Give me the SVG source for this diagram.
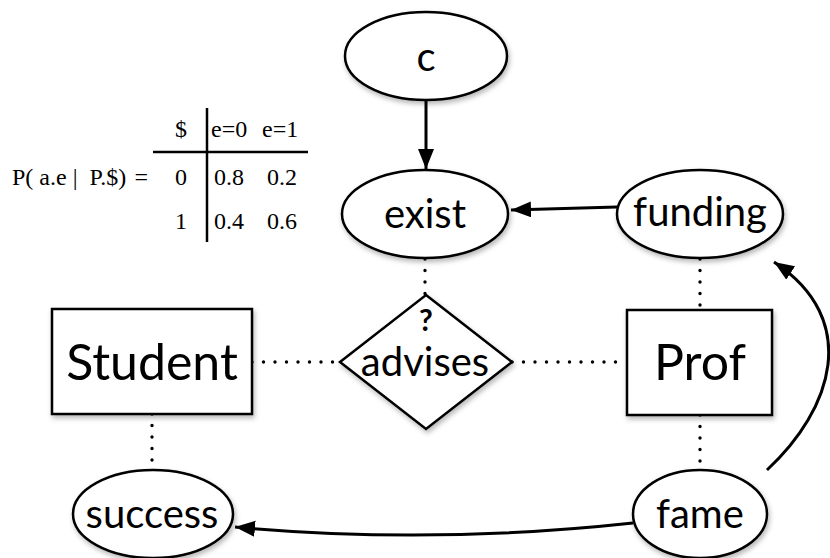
<svg xmlns="http://www.w3.org/2000/svg" width="830" height="558" viewBox="0 0 830 558">
  <style>
    .shape { fill: #ffffff; stroke: #000000; stroke-width: 2.5; filter: url(#shadow); }
    .lbl { font-family: Lato, "Open Sans", "DejaVu Sans", sans-serif; fill: #000000; text-anchor: middle; }
    .med { font-size: 40px; }
    .big { font-size: 50px; }
    .arrow { fill: none; stroke: #000000; stroke-width: 3; marker-end: url(#head); }
    .dots { fill: none; stroke: #000000; stroke-width: 3.4; stroke-linecap: round; stroke-dasharray: 0 11.5; }
    .tbl { font-family: "Liberation Serif", "Times New Roman", serif; font-size: 24px; fill: #000000; }
    .rule { stroke: #000000; stroke-width: 2.5; }
  </style>
  <defs>
    <filter id="shadow" x="-20%" y="-20%" width="140%" height="150%">
      <feDropShadow dx="1.5" dy="3" stdDeviation="2.5" flood-color="#000000" flood-opacity="0.28"/>
    </filter>
    <marker id="head" markerUnits="userSpaceOnUse" markerWidth="22" markerHeight="18" refX="20" refY="8" orient="auto">
      <path d="M0,0 L20,8 L0,16 z" fill="#000000"/>
    </marker>
  </defs>

  <!-- conditional probability table -->
  <g id="cpt">
    <line class="rule" x1="207" y1="108" x2="207" y2="242"/>
    <line class="rule" x1="153" y1="152" x2="308" y2="152"/>
    <text class="tbl" x="181" y="137" text-anchor="middle">$</text>
    <text class="tbl" x="211" y="137">e=0</text>
    <text class="tbl" x="262" y="137">e=1</text>
    <text class="tbl" x="12" y="185" xml:space="preserve">P( a.e |  P.$)</text>
    <text class="tbl" x="148" y="185" text-anchor="end">=</text>
    <text class="tbl" x="181" y="185" text-anchor="middle">0</text>
    <text class="tbl" x="214" y="185">0.8</text>
    <text class="tbl" x="267" y="185">0.2</text>
    <text class="tbl" x="181" y="229" text-anchor="middle">1</text>
    <text class="tbl" x="214" y="229">0.4</text>
    <text class="tbl" x="267" y="229">0.6</text>
  </g>

  <!-- connectors -->
  <g id="connectors">
    <line class="arrow" x1="426" y1="100" x2="426" y2="169"/>
    <path class="arrow" d="M617,207 L511,210"/>
    <path class="arrow" d="M633,523 Q430,545 235,527"/>
    <path class="arrow" d="M767,470 C832,410 862,320 774,262"/>
    <line class="dots" x1="425" y1="259" x2="425" y2="295"/>
    <line class="dots" x1="700" y1="259" x2="700" y2="310"/>
    <line class="dots" x1="700" y1="415" x2="700" y2="470"/>
    <line class="dots" x1="152" y1="414" x2="152" y2="470"/>
    <line class="dots" x1="252" y1="362" x2="340" y2="362"/>
    <line class="dots" x1="512" y1="362" x2="627" y2="362"/>
  </g>

  <g id="c">
    <ellipse class="shape" cx="426" cy="56" rx="81" ry="44"/>
    <text class="lbl med" x="426" y="71">c</text>
  </g>
  <g id="exist">
    <ellipse class="shape" cx="425" cy="214" rx="83" ry="44"/>
    <text class="lbl med" x="425" y="228">exist</text>
  </g>
  <g id="funding">
    <ellipse class="shape" cx="700" cy="214" rx="83" ry="44"/>
    <text class="lbl med" x="700" y="226">funding</text>
  </g>
  <g id="student">
    <rect class="shape" x="52" y="309" width="200" height="105"/>
    <text class="lbl big" x="152" y="380">Student</text>
  </g>
  <g id="advises">
    <polygon class="shape" points="426,295 512,362 426,429 340,362"/>
    <text class="lbl" x="426" y="331" font-size="30" font-weight="bold">?</text>
    <text class="lbl med" x="425" y="376">advises</text>
  </g>
  <g id="prof">
    <rect class="shape" x="627" y="310" width="145" height="105"/>
    <text class="lbl big" x="700" y="380">Prof</text>
  </g>
  <g id="success">
    <ellipse class="shape" cx="153" cy="514" rx="80" ry="44"/>
    <text class="lbl med" x="152" y="528">success</text>
  </g>
  <g id="fame">
    <ellipse class="shape" cx="700" cy="514" rx="67" ry="44"/>
    <text class="lbl med" x="700" y="528">fame</text>
  </g>
</svg>
